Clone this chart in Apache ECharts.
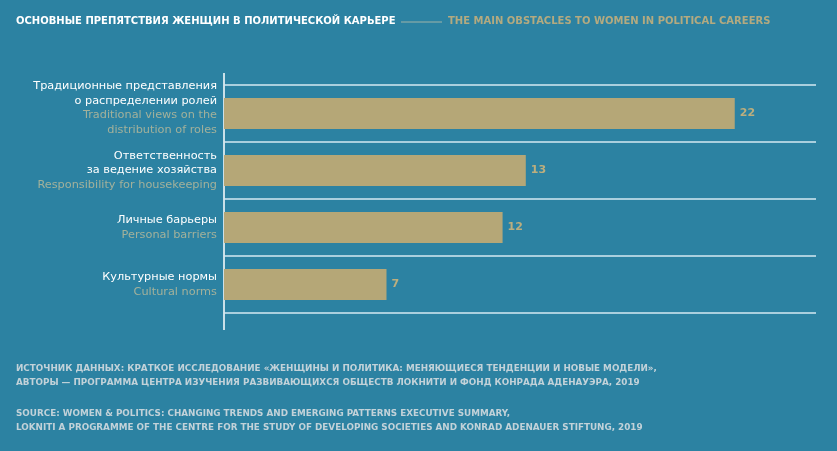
<!DOCTYPE html>
<html>
<head>
<meta charset="utf-8">
<script src="https://cdn.jsdelivr.net/npm/echarts@6/dist/echarts.min.js"></script>
<style>
  html, body { margin: 0; padding: 0; background: #2c82a2; }
  #chart { width: 837px; height: 451px; }
</style>
</head>
<body>
<div id="chart"></div>
<script>
// данные
const labelsRu = [
  'Традиционные представления\nо распределении ролей',
  'Ответственность\nза ведение хозяйства',
  'Личные барьеры',
  'Культурные нормы'
];
const labelsEn = [
  'Traditional views on the\ndistribution of roles',
  'Responsibility for housekeeping',
  'Personal barriers',
  'Cultural norms'
];
const values = [22, 13, 12, 7];

const FONT = '"DejaVu Sans", sans-serif';
const GRID = { left: 224, top: 85, right: 21, bottom: 138 };

const chart = echarts.init(document.getElementById('chart'));

// подписи категорий: русская часть белая, английская бежевая
const categories = labelsRu.map((ru, i) => {
  const ruLines = ru.split('\n').map(s => '{ru|' + s + '}');
  const enLines = labelsEn[i].split('\n').map(s => '{en|' + s + '}');
  const text = ruLines.concat(enLines).join('\n');
  // первая подпись в оригинале сдвинута чуть вверх
  return i === 0 ? { value: text, textStyle: { padding: [0, 0, 11, 0] } } : text;
});

const option = {
  backgroundColor: '#2c82a2',
  textStyle: { fontFamily: FONT },
  grid: GRID,
  xAxis: {
    type: 'value',
    min: 0,
    max: 25.5,
    show: false
  },
  yAxis: {
    type: 'category',
    inverse: true,
    data: categories,
    axisLine: { show: false },
    axisTick: { show: false },
    splitLine: {
      show: true,
      lineStyle: { color: '#d4e8f2', width: 1.5 }
    },
    axisLabel: {
      margin: 7,
      align: 'right',
      rich: {
        ru: { color: '#ffffff', fontSize: 11.3, lineHeight: 14.5, fontFamily: FONT },
        en: { color: '#a3b19b', fontSize: 11.3, lineHeight: 14.5, fontFamily: FONT }
      }
    }
  },
  series: [{
    type: 'bar',
    data: values,
    barWidth: 31,
    itemStyle: { color: '#b5a777' },
    label: {
      show: true,
      position: 'right',
      distance: 5,
      color: '#bcae7e',
      fontWeight: 'bold',
      fontSize: 11,
      fontFamily: FONT
    }
  }],
  graphic: [
    // вертикальная ось
    {
      type: 'line',
      shape: { x1: GRID.left, y1: GRID.top - 12, x2: GRID.left, y2: 451 - GRID.bottom + 17 },
      style: { stroke: '#ffffff', lineWidth: 1.5 }
    },
    {
      type: 'text', left: 16, top: 16,
      style: {
        text: 'ОСНОВНЫЕ ПРЕПЯТСТВИЯ ЖЕНЩИН В ПОЛИТИЧЕСКОЙ КАРЬЕРЕ',
        fill: '#ffffff', font: 'bold 10px ' + FONT
      }
    },
    {
      type: 'line',
      shape: { x1: 401, y1: 22, x2: 442, y2: 22 },
      style: { stroke: '#9fb3a8', lineWidth: 1 }
    },
    {
      type: 'text', left: 448, top: 16,
      style: {
        text: 'THE MAIN OBSTACLES TO WOMEN IN POLITICAL CAREERS',
        fill: '#b3aa80', font: 'bold 10px ' + FONT
      }
    },
    {
      type: 'text', left: 16, top: 362,
      style: {
        text: 'ИСТОЧНИК ДАННЫХ: КРАТКОЕ ИССЛЕДОВАНИЕ «ЖЕНЩИНЫ И ПОЛИТИКА: МЕНЯЮЩИЕСЯ ТЕНДЕНЦИИ И НОВЫЕ МОДЕЛИ»,\nАВТОРЫ — ПРОГРАММА ЦЕНТРА ИЗУЧЕНИЯ РАЗВИВАЮЩИХСЯ ОБЩЕСТВ ЛОКНИТИ И ФОНД КОНРАДА АДЕНАУЭРА, 2019',
        fill: '#c2d2d9', font: 'bold 8.8px ' + FONT, lineHeight: 13.5
      }
    },
    {
      type: 'text', left: 16, top: 407,
      style: {
        text: 'SOURCE: WOMEN & POLITICS: CHANGING TRENDS AND EMERGING PATTERNS EXECUTIVE SUMMARY,\nLOKNITI A PROGRAMME OF THE CENTRE FOR THE STUDY OF DEVELOPING SOCIETIES AND KONRAD ADENAUER STIFTUNG, 2019',
        fill: '#c2d2d9', font: 'bold 8.8px ' + FONT, lineHeight: 13.5
      }
    }
  ]
};

chart.setOption(option);
</script>
</body>
</html>
